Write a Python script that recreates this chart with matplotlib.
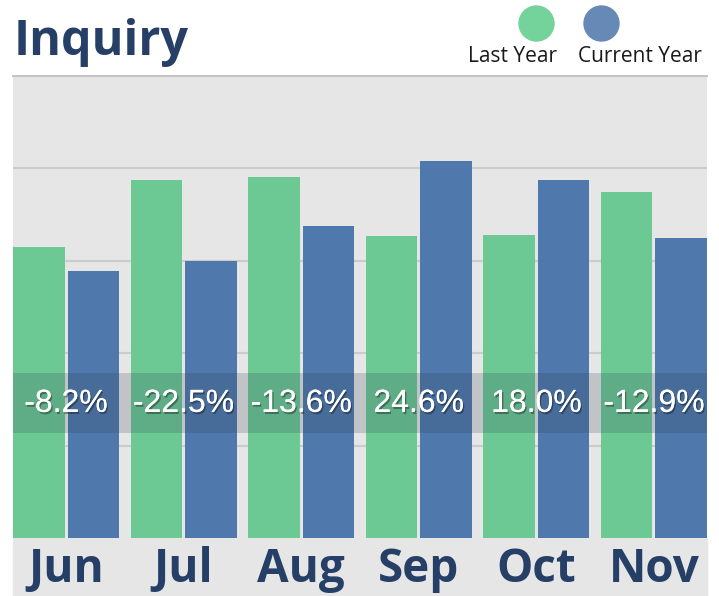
import numpy as np
import matplotlib
matplotlib.use("Agg")
import matplotlib.pyplot as plt
import matplotlib.patheffects as pe
from matplotlib.patches import Ellipse, Rectangle

months = ["Jun", "Jul", "Aug", "Sep", "Oct", "Nov"]
last_year = [315, 387, 391, 327, 328, 374]
current_year = [289, 300, 338, 408, 387, 325]
changes = ["-8.2%", "-22.5%", "-13.6%", "24.6%", "18.0%", "-12.9%"]
series_names = ["Last Year", "Current Year"]

GREEN = "#6cc994"
BLUE = "#4f78ad"
NAVY = "#263f66"
BG = "#e6e6e6"

W, H = 719, 596
fig = plt.figure(figsize=(W / 100, H / 100), dpi=100)

def fx(px):
    return px / W

def fy(py):
    return 1 - py / H

# grey strip under the plot for the month names
fig.add_artist(Rectangle((fx(13), 0), fx(707) - fx(13), fy(538),
                         transform=fig.transFigure, color=BG, zorder=0))

ax = fig.add_axes([fx(13), fy(538), fx(707) - fx(13), fy(76) - fy(538)])
ax.set_facecolor(BG)

bw = 0.438
gap = 0.0255
x = np.arange(len(months))
ax.bar(x + bw / 2, last_year, width=bw, color=GREEN, zorder=2)
ax.bar(x + bw * 1.5 + gap, current_year, width=bw, color=BLUE, zorder=2)

ax.set_xlim(0, 5 + 2 * bw + gap)
ax.set_ylim(0, 500)
ax.set_yticks([100, 200, 300, 400])
ax.yaxis.grid(True, color="#cbcbcb", linewidth=1.5, zorder=1)
ax.set_axisbelow(True)
ax.tick_params(left=False, bottom=False, labelleft=False, labelbottom=False)
for s in ["left", "right", "bottom"]:
    ax.spines[s].set_visible(False)
ax.spines["top"].set_color("#c4c4c4")
ax.spines["top"].set_linewidth(1.5)

# dark band holding the change labels
ax.axhspan(114, 179, color="#2f3f4f", alpha=0.2, lw=0, zorder=3)

centers = x + bw + gap / 2
shadow = [pe.withSimplePatchShadow(offset=(1, -1.5), shadow_rgbFace="black", alpha=0.35), pe.Normal()]
for cx, lab in zip(centers, changes):
    ax.text(cx, 136.5, lab, ha="center", va="baseline", color="white",
            fontsize=23, family="Liberation Sans", zorder=4, path_effects=shadow)

for cx, m in zip(centers, months):
    ax.text(cx, -48, m, ha="center", va="baseline", color=NAVY, fontsize=33,
            fontweight="bold", family="Open Sans", clip_on=False)

fig.text(fx(14), fy(55), "Inquiry", ha="left", va="baseline", color=NAVY,
         fontsize=35, fontweight="bold", family="Open Sans")

# legend: dots over the labels
leg_x = [513, 640]
dot_x = [536.5, 601.5]
for lx, dx, name, c in zip(leg_x, dot_x, series_names, ["#74d39b", "#6689b6"]):
    fig.add_artist(Ellipse((fx(dx), fy(23.5)), 35 / W, 35 / H,
                           transform=fig.transFigure, color=c))
    fig.text(fx(lx), fy(62), name, ha="center", va="baseline", color="#1a1a1a",
             fontsize=15, family="Open Sans")

fig.savefig("out.png", dpi=100)
